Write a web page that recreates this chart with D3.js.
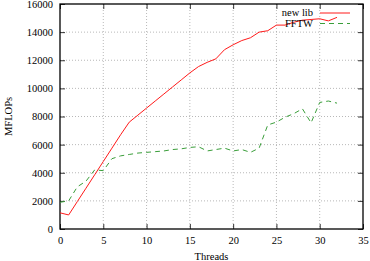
<!DOCTYPE html>
<html>
<head>
<meta charset="utf-8">
<script src="https://cdn.jsdelivr.net/npm/d3@7"></script>
<style>
  body { margin: 0; background: #fff; }
  svg text { font-family: "Liberation Serif", "DejaVu Serif", serif !important; font-size: 10.5px; fill: #000; }
</style>
</head>
<body>
<div id="chart"></div>
<script>
// thread counts and measured MFLOPs for both libraries
var threads = d3.range(0, 33);
var newLib = [1150, 1000, 1950, 2900, 3850, 4800, 5750, 6700, 7600, 8100, 8600,
  9100, 9600, 10100, 10600, 11100, 11550, 11850, 12100, 12750, 13100, 13400,
  13600, 14000, 14100, 14500, 14500, 14700, 14850, 14900, 14950, 14800, 15050];
var fftw = [1900, 2000, 3000, 3400, 4200, 4150, 5000, 5200, 5300, 5400, 5450,
  5500, 5550, 5650, 5700, 5800, 5850, 5550, 5650, 5750, 5550, 5650, 5450, 5750,
  7400, 7600, 7950, 8200, 8550, 7550, 9000, 9100, 8950];
var xTicks = [0, 5, 10, 15, 20, 25, 30, 35];
var yTicks = [0, 2000, 4000, 6000, 8000, 10000, 12000, 14000, 16000];
var seriesNames = ["new lib", "FFTW"];

var margin = {top: 4, right: 7, bottom: 32, left: 60},
  width = 370 - margin.left - margin.right,
  height = 261 - margin.top - margin.bottom;

var svg = d3.select("#chart")
  .append("svg")
  .attr("width", 370)
  .attr("height", 261)
  .append("g")
  .attr("transform", "translate(" + margin.left + "," + margin.top + ")");

var x = d3.scaleLinear().domain([0, 35]).range([0, width]);
var y = d3.scaleLinear().domain([0, 16000]).range([height, 0]);

// grid lines
svg.append("g").selectAll("line")
  .data(xTicks.slice(1, -1))
  .enter().append("line")
  .attr("x1", d => x(d)).attr("x2", d => x(d))
  .attr("y1", 0).attr("y2", height)
  .style("stroke", "#999").style("stroke-width", 0.7)
  .style("stroke-dasharray", "1,2");
svg.append("g").selectAll("line")
  .data(yTicks.slice(1, -1))
  .enter().append("line")
  .attr("x1", 0).attr("x2", width)
  .attr("y1", d => y(d)).attr("y2", d => y(d))
  .style("stroke", "#999").style("stroke-width", 0.7)
  .style("stroke-dasharray", "1,2");

// axes (ticks drawn inward, mirrored on top and right)
svg.append("g").attr("transform", "translate(0," + height + ")")
  .call(d3.axisBottom(x).tickValues(xTicks).tickSize(-5).tickPadding(8)
    .tickFormat(d3.format("d")));
svg.append("g")
  .call(d3.axisLeft(y).tickValues(yTicks).tickSize(-5).tickPadding(7)
    .tickFormat(d3.format("d")));
svg.append("g")
  .call(d3.axisTop(x).tickValues(xTicks).tickSize(-5).tickFormat(""));
svg.append("g").attr("transform", "translate(" + width + ",0)")
  .call(d3.axisRight(y).tickValues(yTicks).tickSize(-5).tickFormat(""));
svg.selectAll(".domain").remove();
svg.selectAll(".tick line").style("stroke", "#000").style("stroke-width", 0.8);

svg.append("rect")
  .attr("width", width).attr("height", height)
  .style("fill", "none").style("stroke", "#000").style("stroke-width", 1.3);

// axis labels
svg.append("text")
  .attr("transform", "translate(" + (width / 2) + "," + (height + 31) + ")")
  .style("text-anchor", "middle")
  .text("Threads");
svg.append("text")
  .attr("transform", "rotate(-90)")
  .attr("y", -margin.left + 12)
  .attr("x", -height / 2)
  .style("text-anchor", "middle")
  .text("MFLOPs");

var line = function (vals) {
  return d3.line()
    .x((d, i) => x(threads[i]))
    .y(d => y(d))(vals);
};

svg.append("path")
  .attr("d", line(newLib))
  .style("fill", "none").style("stroke", "#ff1a1a").style("stroke-width", 1);
svg.append("path")
  .attr("d", line(fftw))
  .style("fill", "none").style("stroke", "#3a9e3a").style("stroke-width", 1)
  .style("stroke-dasharray", "5,4");

// legend
var legend = svg.append("g").attr("transform", "translate(" + (width - 50) + ",0)");
seriesNames.forEach(function (name, i) {
  var ly = 9 + i * 10.5;
  legend.append("text")
    .attr("x", 0).attr("y", ly).attr("dy", "0.33em")
    .style("text-anchor", "end")
    .text(name);
  legend.append("line")
    .attr("x1", 7).attr("x2", 37).attr("y1", ly).attr("y2", ly)
    .style("stroke", i === 0 ? "#ff1a1a" : "#3a9e3a")
    .style("stroke-width", 1)
    .style("stroke-dasharray", i === 0 ? null : "5,4");
});
</script>
</body>
</html>
